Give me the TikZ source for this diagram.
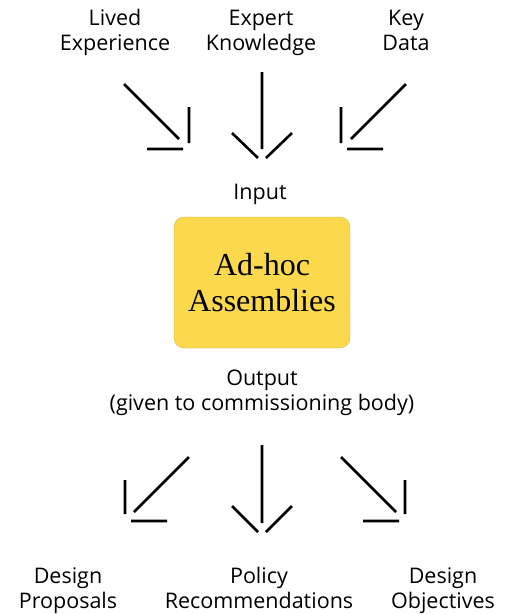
\documentclass[tikz,border=0pt]{standalone}
\usepackage{fontspec}
\setmainfont{Open Sans}
\newfontfamily\boxfont{Liberation Serif}
\definecolor{coreyellow}{HTML}{FCD94C}

\begin{document}
\begin{tikzpicture}[
    x=1pt, y=-1pt,
    lbl/.style={align=center, inner sep=0pt, anchor=base,
                font=\fontsize{21.5}{25}\selectfont},
    core/.style={rounded corners=10pt, fill=coreyellow, draw=coreyellow!80!black,
                 line width=0.3pt, minimum width=176pt, minimum height=131pt,
                 align=center, font=\boxfont\fontsize{32}{36}\selectfont},
    stroke/.style={line width=2.6pt},
]
\useasboundingbox (0,0) rectangle (506,614);

% ---- Inputs (anchored on the last baseline) ----
\node[lbl] (lived) at (115, 50) {Lived\\Experience};
\node[lbl] (expert) at (261, 50) {Expert\\Knowledge};
\node[lbl] (keydata) at (406, 50) {Key\\Data};

% input arrows (shaft and head drawn apart)
\coordinate (inL) at (189, 149);
\coordinate (inM) at (262, 160);
\coordinate (inR) at (341, 149);
\draw[stroke, shift={(inL)}] (-65,-65) -- (-10,-10) (0,-42) -- (0,-6) (-42,0) -- (-6,0);
\draw[stroke, shift={(inM)}] (0,-88) -- (0,-11) (-30,-27) -- (-4,-2) (30,-27) -- (4,-2);
\draw[stroke, shift={(inR)}] (65,-65) -- (10,-10) (0,-42) -- (0,-6) (42,0) -- (6,0);

\node[lbl] (input) at (260, 199) {Input};

% ---- Core ----
\node[core] (assembly) at (262, 282.5) {Ad-hoc\\Assemblies};

\node[lbl] (output) at (262, 410) {Output\\(given to commissioning body)};

% output arrows
\coordinate (outL) at (125, 521);
\coordinate (outM) at (262, 534);
\coordinate (outR) at (405, 521);
\draw[stroke, shift={(outL)}] (64,-64) -- (9,-9) (0,-41) -- (0,-7) (42,0) -- (6,0);
\draw[stroke, shift={(outM)}] (0,-89) -- (0,-11) (-30,-28) -- (-4,-2) (30,-28) -- (4,-2);
\draw[stroke, shift={(outR)}] (-64,-64) -- (-9,-9) (0,-41) -- (0,-7) (-42,0) -- (-6,0);

% ---- Outputs ----
\node[lbl] (proposals) at (68, 608) {Design\\Proposals};
\node[lbl] (policy) at (259, 608) {Policy\\Recommendations};
\node[lbl] (objectives) at (443, 608) {Design\\Objectives};

\end{tikzpicture}
\end{document}
